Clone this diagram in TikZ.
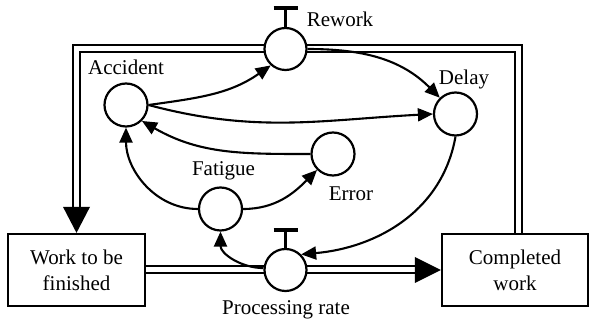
\documentclass[tikz,border=0pt]{standalone}
\usepackage{fontspec}
\setmainfont{Liberation Serif}
\usetikzlibrary{positioning,arrows.meta,backgrounds}
\tikzset{
  basic/.style = {draw, line width=2.2pt, inner sep=0pt},
  var/.style   = {basic, circle, fill=white, minimum size=43pt},
  valve/.style = {var, minimum size=42pt},
  stock/.style = {basic, rectangle, fill=white, align=center, minimum height=72pt},
  lbl/.style   = {inner sep=0pt, anchor=base},
  flow/.style  = {line width=2.1pt, -{Triangle[length=15pt,width=13pt]}},
  pipe/.style  = {line width=2pt, double=white, double distance=5pt},
  stem/.style  = {line width=2.2pt},
  bar/.style   = {line width=4pt}
}

\begin{document}
\begin{tikzpicture}[x=1pt, y=1pt, font=\fontsize{21}{26}\selectfont]
\useasboundingbox (0,0) rectangle (590,321);

% stocks
\node[stock, minimum width=137pt] (work) at (76.5,51) {Work to be\\finished};
\node[stock, minimum width=146pt] (done) at (515,51) {Completed\\work};

% valves with their handles
\node[valve] (rework) at (285.5,272) {};
\node[valve] (rate) at (285.5,51) {};
\draw[stem] (rework.north) -- ++(0,19) coordinate (reworktop);
\draw[bar] ([xshift=-12pt]reworktop) -- ([xshift=12pt]reworktop);
\draw[stem] (rate.north) -- ++(0,18) coordinate (ratetop);
\draw[bar] ([xshift=-12pt]ratetop) -- ([xshift=12pt]ratetop);

% auxiliary variables
\node[var] (accident) at (126,216) {};
\node[var] (delay) at (455.5,207) {};
\node[var] (error) at (333,167) {};
\node[var] (fatigue) at (220.5,112) {};

% labels
\node[lbl] (reworklbl) at ([shift={(54.5,22)}]rework.center) {Rework};
\node[lbl] (ratelbl) at ([shift={(0.5,-45)}]rate.center) {Processing rate};
\node[lbl] (accidentlbl) at ([yshift=7.5pt]accident.north) {Accident};
\node[lbl] (delaylbl) at ([shift={(8.5,6.5)}]delay.north) {Delay};
\node[lbl] (errorlbl) at ([shift={(18,-47)}]error.center) {Error};
\node[lbl] (fatiguelbl) at ([shift={(3,10.5)}]fatigue.north) {Fatigue};

% material flows (pipes)
\begin{scope}[on background layer]
\draw[pipe] ([xshift=3.5pt]done.north) |- (rework.center) -| ([yshift=26pt]work.north);
\draw[pipe] (work.east) -- ([xshift=-26pt]done.west);
\end{scope}
\fill (work.north) -- ++(-13.5,26) -- ++(27,0) -- cycle;
\fill (done.west) -- ++(-26,13) -- ++(0,-26) -- cycle;

% information links
\draw[flow] (accident.east) to[out=8, in=215] (rework.228);
\draw[flow] (accident.east) to[out=-15, in=183] (delay.west);
\draw[flow] (rework.east) to[out=0, in=135] (delay.134);
\draw[flow] (error.west) to[out=180, in=-30] (accident.-45);
\draw[flow] (fatigue.west) to[out=180, in=-90] (accident.south);
\draw[flow] (fatigue.east) to[out=0, in=225] (error.225);
\draw[flow] (delay.south) to[out=-100, in=5] (rate.45);
\draw[flow] (rate.175) to[out=180, in=-90] (fatigue.south);
\end{tikzpicture}
\end{document}
